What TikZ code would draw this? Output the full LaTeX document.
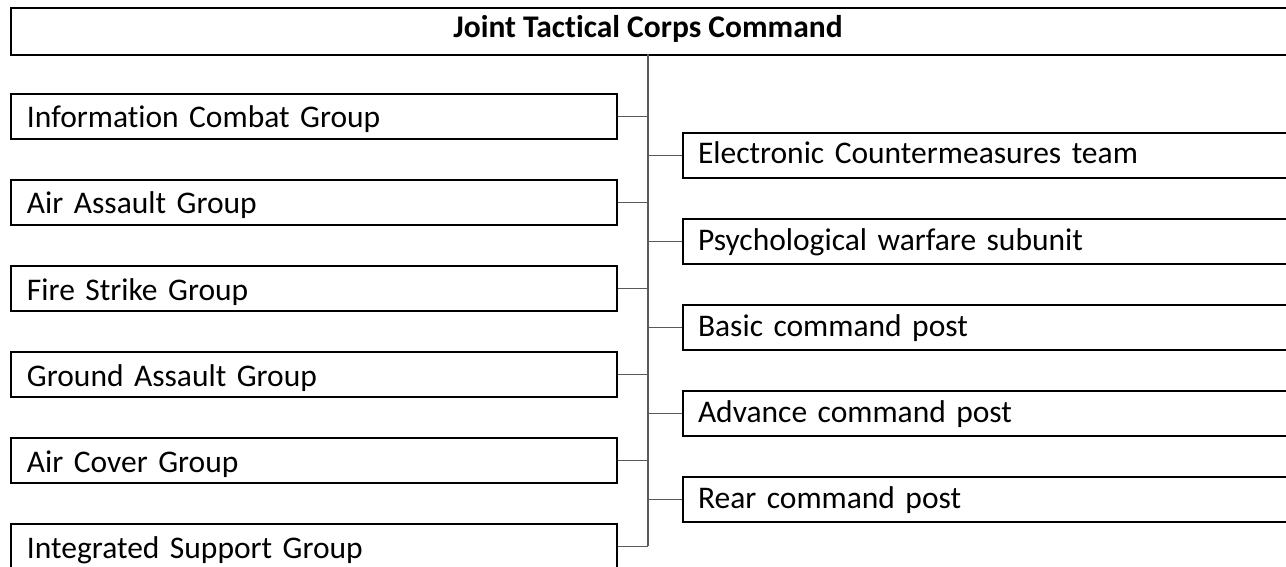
\documentclass[tikz,border=0pt]{standalone}
\usepackage{fontspec}
\setmainfont{Carlito}[Ligatures={NoCommon}]
\begin{document}
\begin{tikzpicture}[x=1pt,y=-1pt,
  box/.style={draw=black,line width=2pt,anchor=north west,inner sep=0pt,
    align=left,font=\fontsize{31.5}{36}\selectfont},
  lbox/.style={box,minimum width=606pt,minimum height=45pt,
    text width=574pt,text height=24pt,text depth=1pt},
  rbox/.style={box,minimum width=640pt,minimum height=45pt,
    text width=610pt,text height=20pt,text depth=3pt},
  link/.style={draw=black!65,line width=1.5pt}]
\useasboundingbox (0,0) rectangle (1286,567);
\clip (0,0) rectangle (1286,567);
% head unit
\node[draw=black,line width=2pt,anchor=north west,inner sep=0pt,
  minimum width=1300pt,minimum height=47pt] (cmd) at (10,7) {};
\node[font=\fontsize{31.5}{36}\selectfont\bfseries,anchor=base] (title) at (648,38) {Joint Tactical Corps Command};
\coordinate (spine) at (648,54);
\coordinate (spineend) at (648,546);
% left column of groups
\node[lbox] (l1) at (10,93)  {Information Combat Group};
\node[lbox] (l2) at (10,179) {Air Assault Group};
\node[lbox] (l3) at (10,265) {Fire Strike Group};
\node[lbox] (l4) at (10,351) {Ground Assault Group};
\node[lbox] (l5) at (10,437) {Air Cover Group};
\node[lbox] (l6) at (10,523) {Integrated Support Group};
% right column of subunits
\node[rbox] (r1) at (682,132) {Electronic Countermeasures team};
\node[rbox] (r2) at (682,218) {Psychological warfare subunit};
\node[rbox] (r3) at (682,304) {Basic command post};
\node[rbox] (r4) at (682,390) {Advance command post};
\node[rbox] (r5) at (682,476) {Rear command post};
% connectors
\draw[link] (spine) -- (spineend);
\foreach \n in {l1,l2,l3,l4,l5,l6} \draw[link] (\n.east) -- (\n.east -| spine);
\foreach \n in {r1,r2,r3,r4,r5} \draw[link] (\n.west -| spine) -- (\n.west);
\end{tikzpicture}
\end{document}
